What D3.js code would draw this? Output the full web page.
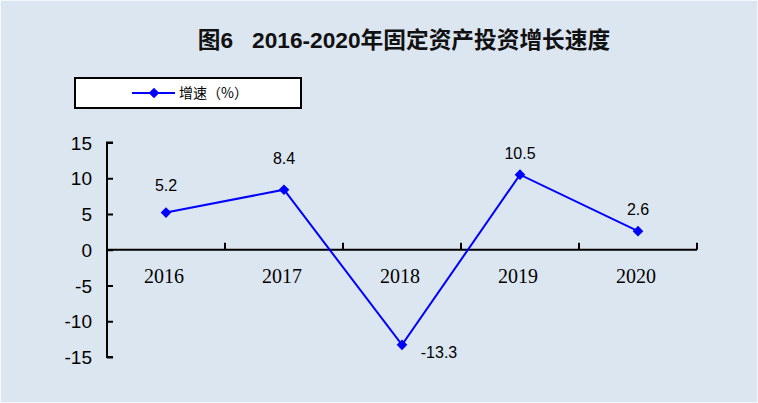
<!DOCTYPE html>
<html>
<head>
<meta charset="utf-8">
<script src="https://cdn.jsdelivr.net/npm/d3@7"></script>
<style>
  body { margin: 0; background: #dce6f1; }
  svg { display: block; }
</style>
</head>
<body>
<svg id="chart" width="758" height="403"></svg>
<script>
// data
var years = ["2016", "2017", "2018", "2019", "2020"];
var growth = [5.2, 8.4, -13.3, 10.5, 2.6];
var yTicks = [15, 10, 5, 0, -5, -10, -15];

var svg = d3.select("#chart");

svg.append("rect")
	.attr("x", 0.5).attr("y", 0.5)
	.attr("width", 757).attr("height", 402)
	.style("fill", "#dce6f1")
	.style("stroke", "#f4f7fb");

// title
svg.append("text")
	.attr("x", 404)
	.attr("y", 48)
	.attr("text-anchor", "middle")
	.style("font-family", "'Liberation Sans', 'Noto Sans CJK SC', sans-serif")
	.style("font-weight", "bold")
	.style("font-size", "22.7px")
	.style("fill", "#111")
	.attr("xml:space", "preserve")
	.text("图6   2016-2020年固定资产投资增长速度");

var x = d3.scaleBand().domain(years).range([107, 697]);
var y = d3.scaleLinear().domain([-15, 15]).range([357, 142.5]);

// y axis
var yAxis = svg.append("g")
	.attr("transform", "translate(107,0)")
	.call(d3.axisRight(y).tickValues(yTicks).tickSize(6).tickFormat(""));
yAxis.select(".domain").attr("d", "M6," + y(15) + "H0V" + y(-15) + "H6");
yAxis.selectAll("path, line").style("stroke", "#000").style("stroke-width", 2);

svg.selectAll("text.ylab")
	.data(yTicks)
	.enter()
	.append("text")
	.classed("ylab", true)
	.attr("x", 92)
	.attr("y", function(d) { return y(d) + 7; })
	.attr("text-anchor", "end")
	.style("font-family", "'Liberation Sans', Arial, sans-serif")
	.style("font-size", "19px")
	.style("fill", "#000")
	.text(function(d) { return d; });

// x axis at zero
var xAxisG = svg.append("g").attr("transform", "translate(0," + y(0) + ")");
xAxisG.append("line")
	.attr("x1", 107).attr("x2", 697)
	.style("stroke", "#000").style("stroke-width", 2);
xAxisG.selectAll("line.tk")
	.data(years.slice(1).concat(["end"]))
	.enter()
	.append("line")
	.classed("tk", true)
	.attr("x1", function(d) { return d == "end" ? 697 : x(d); })
	.attr("x2", function(d) { return d == "end" ? 697 : x(d); })
	.attr("y1", 0).attr("y2", -7)
	.style("stroke", "#000").style("stroke-width", 2);

svg.selectAll("text.xlab")
	.data(years)
	.enter()
	.append("text")
	.classed("xlab", true)
	.attr("x", function(d) { return x(d) + x.bandwidth() / 2 - 2; })
	.attr("y", 283)
	.attr("text-anchor", "middle")
	.style("font-family", "'Liberation Serif', 'Times New Roman', serif")
	.style("font-size", "20px")
	.style("fill", "#000")
	.text(function(d) { return d; });

// line and markers
var cx = function(d, i) { return x(years[i]) + x.bandwidth() / 2; };
var line = d3.line().x(cx).y(function(d) { return y(d); });

svg.append("path")
	.datum(growth)
	.attr("d", line)
	.style("fill", "none")
	.style("stroke", "#0000ff")
	.style("stroke-width", 2);

var diamond = d3.symbol().type(d3.symbolDiamond2).size(72);
svg.selectAll("path.mk")
	.data(growth)
	.enter()
	.append("path")
	.classed("mk", true)
	.attr("d", diamond)
	.attr("transform", function(d, i) { return "translate(" + cx(d, i) + "," + y(d) + ")"; })
	.style("fill", "#0000ff");

// value labels
var labelOff = [[0, -22], [0, -26], [37, 13], [0, -16], [0, -16]];
svg.selectAll("text.val")
	.data(growth)
	.enter()
	.append("text")
	.classed("val", true)
	.attr("x", function(d, i) { return cx(d, i) + labelOff[i][0]; })
	.attr("y", function(d, i) { return y(d) + labelOff[i][1]; })
	.attr("text-anchor", "middle")
	.style("font-family", "'Liberation Sans', Arial, sans-serif")
	.style("font-size", "16px")
	.style("fill", "#000")
	.text(function(d) { return d; });

// legend
var lg = svg.append("g");
lg.append("rect")
	.attr("x", 75).attr("y", 78)
	.attr("width", 226).attr("height", 30)
	.style("fill", "#fff")
	.style("stroke", "#000")
	.style("stroke-width", 2);
lg.append("line")
	.attr("x1", 132).attr("x2", 175)
	.attr("y1", 93).attr("y2", 93)
	.style("stroke", "#0000ff").style("stroke-width", 2);
lg.append("path")
	.attr("d", diamond)
	.attr("transform", "translate(154,93)")
	.style("fill", "#0000ff");
lg.append("text")
	.attr("x", 179).attr("y", 98)
	.style("font-family", "'Noto Sans CJK SC', sans-serif")
	.style("font-size", "14px")
	.style("fill", "#000")
	.text("增速（%）");
</script>
</body>
</html>
